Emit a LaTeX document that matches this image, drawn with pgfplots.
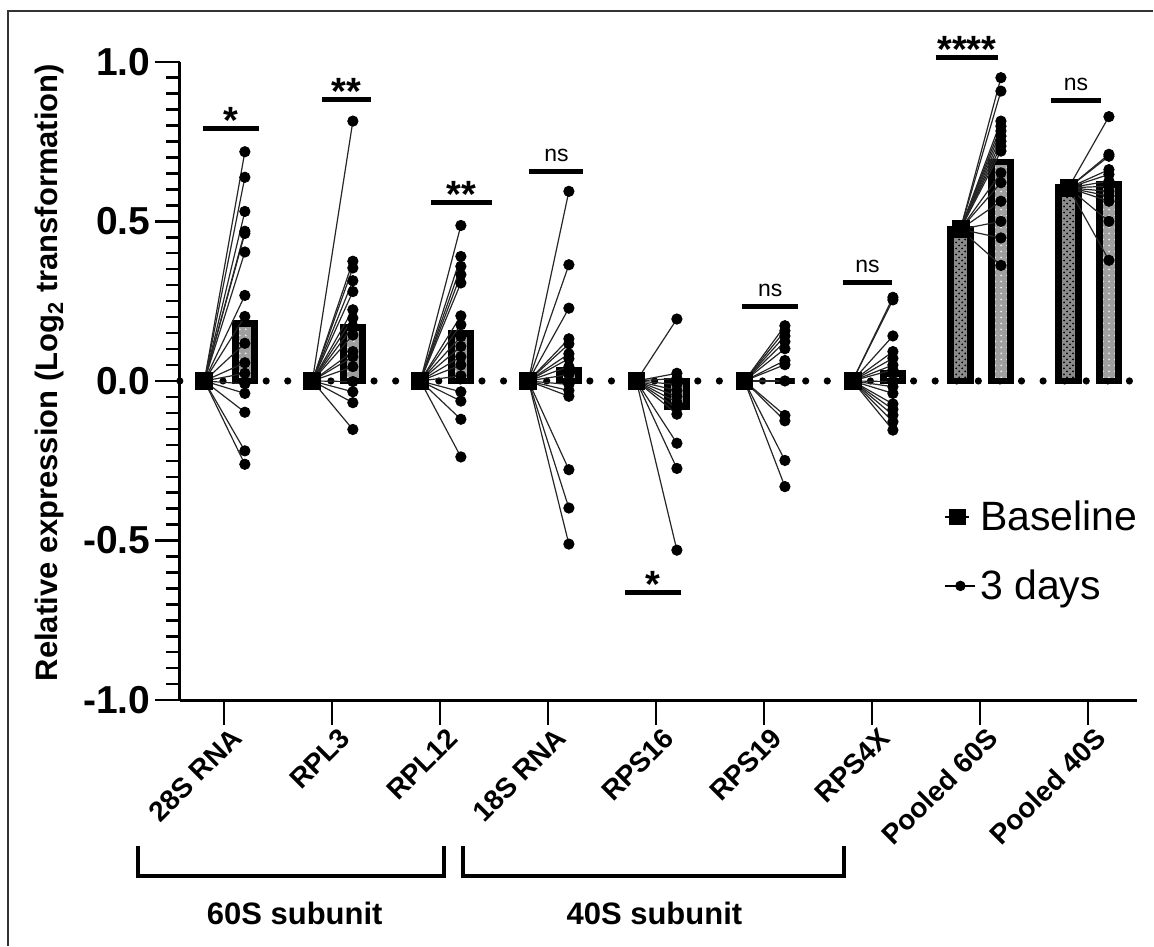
\documentclass[border=0pt]{standalone}
\usepackage{fontspec}
\setmainfont{Liberation Sans}
\usepackage{pgfplots}
\pgfplotsset{compat=1.18}
\usepackage{pgfplotstable}
\usetikzlibrary{patterns}

% individual 3-day values (cat = category index, b = baseline value of that category)
\pgfplotstableread{
cat y b
0 0.718 0
0 0.638 0
0 0.531 0
0 0.469 0
0 0.462 0
0 0.404 0
0 0.268 0
0 0.202 0
0 0.118 0
0 0.057 0
0 0.024 0
0 -0.009 0
0 -0.039 0
0 -0.098 0
0 -0.219 0
0 -0.261 0
1 0.814 0
1 0.375 0
1 0.354 0
1 0.314 0
1 0.280 0
1 0.223 0
1 0.197 0
1 0.171 0
1 0.144 0
1 0.092 0
1 0.076 0
1 0.045 0
1 -0.002 0
1 -0.034 0
1 -0.068 0
1 -0.152 0
2 0.487 0
2 0.390 0
2 0.359 0
2 0.333 0
2 0.307 0
2 0.204 0
2 0.176 0
2 0.139 0
2 0.108 0
2 0.076 0
2 0.050 0
2 0.016 0
2 -0.034 0
2 -0.063 0
2 -0.120 0
2 -0.238 0
3 0.594 0
3 0.364 0
3 0.228 0
3 0.132 0
3 0.116 0
3 0.085 0
3 0.070 0
3 0.045 0
3 0.020 0
3 -0.011 0
3 -0.030 0
3 -0.048 0
3 -0.278 0
3 -0.398 0
3 -0.511 0
4 0.194 0
4 0.024 0
4 0.008 0
4 -0.011 0
4 -0.030 0
4 -0.048 0
4 -0.067 0
4 -0.085 0
4 -0.104 0
4 -0.195 0
4 -0.274 0
4 -0.530 0
5 0.173 0
5 0.157 0
5 0.141 0
5 0.123 0
5 0.101 0
5 0.064 0
5 0.051 0
5 0.000 0
5 -0.108 0
5 -0.125 0
5 -0.249 0
5 -0.331 0
6 0.262 0
6 0.254 0
6 0.141 0
6 0.092 0
6 0.071 0
6 0.050 0
6 0.035 0
6 -0.002 0
6 -0.018 0
6 -0.039 0
6 -0.072 0
6 -0.089 0
6 -0.107 0
6 -0.128 0
6 -0.154 0
7 0.950 0.475
7 0.908 0.475
7 0.814 0.475
7 0.798 0.475
7 0.783 0.475
7 0.767 0.475
7 0.751 0.475
7 0.736 0.475
7 0.720 0.475
7 0.652 0.475
7 0.621 0.475
7 0.563 0.475
7 0.500 0.475
7 0.448 0.475
7 0.362 0.475
8 0.828 0.605
8 0.710 0.605
8 0.704 0.605
8 0.662 0.605
8 0.647 0.605
8 0.626 0.605
8 0.610 0.605
8 0.594 0.605
8 0.579 0.605
8 0.563 0.605
8 0.500 0.605
8 0.378 0.605
}\points

% group means
\pgfplotstableread{
cat base day
0 0 0.181
1 0 0.168
2 0 0.148
3 0 0.032
4 0 -0.080
5 0 0.000
6 0 0.023
7 0.475 0.686
8 0.605 0.615
}\means

\pgfplotstableread{
cat base
7 0.475
8 0.605
}\pooledbase

\begin{document}
\begin{tikzpicture}
\begin{axis}[
  at={(0,0)}, anchor=south west,
  scale only axis, width=479pt, height=319.5pt,
  xmin=-0.407, xmax=8.455, ymin=-1, ymax=1,
  axis lines=left,
  axis line style={-, line width=1.4pt, black},
  clip=false,
  tick align=outside,
  major tick length=12.5pt, minor tick length=6.75pt,
  every tick/.style={black, line width=1.2pt},
  xtick={0,...,8},
  xticklabels={28S RNA,RPL3,RPL12,18S RNA,RPS16,RPS19,RPS4X,Pooled 60S,Pooled 40S},
  xticklabel style={rotate=45, anchor=east, inner sep=0pt, xshift=2pt, yshift=-7.5pt,
    font=\bfseries\fontsize{14}{14}\selectfont},
  ytick={-1,-0.5,0,0.5,1},
  yticklabels={-1.0,-0.5,0.0,0.5,1.0},
  minor y tick num=9,
  yticklabel style={anchor=east, inner sep=0pt, xshift=-2pt,
    font=\bfseries\fontsize{19.5}{19.5}\selectfont},
  ylabel={Relative expression (Log\textsubscript{2} transformation)},
  every axis y label/.style={at={(axis description cs:-0.1357,0.513)},
    rotate=90, anchor=center, font=\bfseries\fontsize{15.5}{15.5}\selectfont},
  legend style={at={(axis cs:6.67,-0.362)}, anchor=north west, draw=none,
    fill=none, inner sep=0pt, row sep=14pt,
    font=\fontsize{20.5}{20.5}\selectfont},
  legend cell align=left,
]
% frame of the figure panel
\draw[line width=1pt, black!80] (axis cs:-1.998,-1.7697) -- (axis cs:-1.998,1.159) -- (axis cs:8.603,1.159);
\path (axis cs:-2.072,1.1934) rectangle (axis cs:8.603,-1.7697);

% dotted zero line
\addplot[black, line width=3.6pt, line cap=round, dash pattern=on 0pt off 10.8pt, forget plot]
  coordinates {(-0.407,0) (8.455,0)};

% baseline bars (pooled only)
\addplot[ybar, bar width=0.18, bar shift=0pt, draw=black, line width=3.4pt,
  fill=black!45, postaction={pattern=crosshatch dots, pattern color=black}, forget plot]
  table[x expr=\thisrow{cat}-0.18, y=base] {\pooledbase};
% 3-day bars
\addplot[ybar, bar width=0.18, bar shift=0pt, draw=black, line width=3.4pt,
  fill=gray!75, postaction={pattern=dots, pattern color=white!85!gray}, forget plot]
  table[x expr=\thisrow{cat}+0.195, y=day] {\means};

% paired lines from each 3-day value back to the baseline
\addplot[black!85, line width=0.6pt, no marks, -, forget plot,
  quiver={u=-0.375, v=\thisrow{b}-\thisrow{y}}]
  table[x expr=\thisrow{cat}+0.195, y=y] {\points};

% 3-day points
\addplot[only marks, mark=*, mark size=2.6pt, black, forget plot]
  table[x expr=\thisrow{cat}+0.195, y=y] {\points};
% baseline squares
\addplot[only marks, mark=square*, mark size=4.25pt, black, forget plot]
  table[x expr=\thisrow{cat}-0.18, y=base] {\means};

\addlegendimage{legend image code/.code={
  \draw[black, line width=0.8pt] (0pt,0pt) -- (12pt,0pt);
  \fill[black] (2.2pt,-3.8pt) rectangle (9.8pt,3.8pt);}}
\addlegendentry{Baseline}
\addlegendimage{legend image code/.code={
  \draw[black, line width=0.8pt] (0pt,0pt) -- (15pt,0pt);
  \fill[black] (7.5pt,0pt) circle (2.4pt);}}
\addlegendentry{3 days}

% significance bars
\tikzset{sig/.style={line width=2.5pt},
  star/.style={anchor=base, yshift=-2.5pt, inner sep=0pt, font=\bfseries\fontsize{19}{19}\selectfont},
  ns/.style={anchor=base, yshift=5pt, inner sep=0pt, font=\fontsize{11.5}{11.5}\selectfont}}
\draw[sig] (axis cs:-0.194,0.791) -- (axis cs:0.324,0.791);
\node[star] at (axis cs:0.065,0.791) {*};
\draw[sig] (axis cs:0.907,0.882) -- (axis cs:1.360,0.882);
\node[star] at (axis cs:1.133,0.882) {**};
\draw[sig] (axis cs:1.920,0.560) -- (axis cs:2.480,0.560);
\node[star] at (axis cs:2.200,0.560) {**};
\draw[sig] (axis cs:2.830,0.657) -- (axis cs:3.330,0.657);
\node[ns] at (axis cs:3.080,0.657) {ns};
\draw[sig] (axis cs:3.716,-0.663) -- (axis cs:4.237,-0.663);
\node[star] at (axis cs:3.976,-0.663) {*};
\draw[sig] (axis cs:4.800,0.234) -- (axis cs:5.320,0.234);
\node[ns] at (axis cs:5.060,0.234) {ns};
\draw[sig] (axis cs:5.730,0.307) -- (axis cs:6.190,0.307);
\node[ns] at (axis cs:5.960,0.307) {ns};
\draw[sig] (axis cs:6.590,1.013) -- (axis cs:7.170,1.013);
\node[star] at (axis cs:6.880,1.013) {****};
\draw[sig] (axis cs:7.660,0.879) -- (axis cs:8.120,0.879);
\node[ns] at (axis cs:7.890,0.879) {ns};

% subunit brackets
\draw[line width=2pt] (axis cs:-0.796,-1.457) -- (axis cs:-0.796,-1.550) -- (axis cs:2.035,-1.550) -- (axis cs:2.035,-1.457);
\draw[line width=2pt] (axis cs:2.211,-1.457) -- (axis cs:2.211,-1.550) -- (axis cs:5.745,-1.550) -- (axis cs:5.745,-1.457);
\node[font=\bfseries\fontsize{15.5}{15.5}\selectfont] at (axis cs:0.657,-1.669) {60S subunit};
\node[font=\bfseries\fontsize{15.5}{15.5}\selectfont] at (axis cs:3.987,-1.669) {40S subunit};
\end{axis}
\end{tikzpicture}
\end{document}
